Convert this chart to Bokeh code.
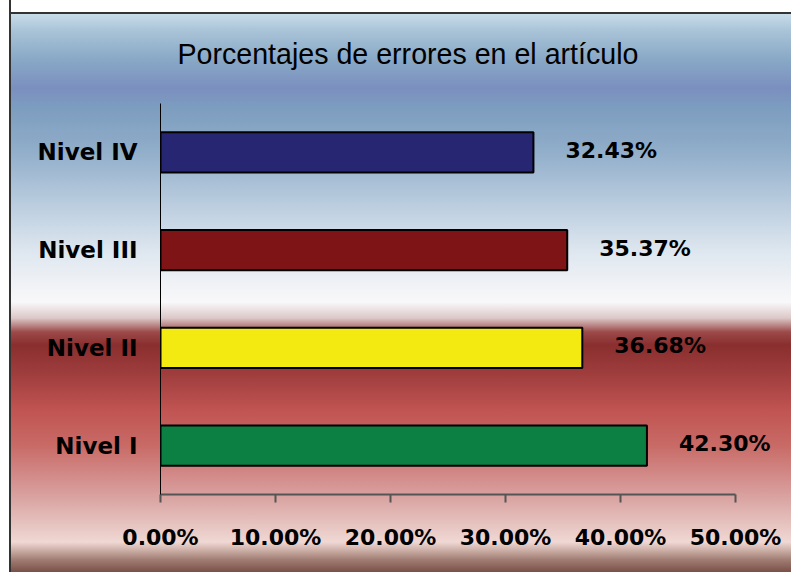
from bokeh.plotting import figure
from bokeh.models import (Range1d, FactorRange, FixedTicker, NumeralTickFormatter,
                          ColumnDataSource, InlineStyleSheet, LabelSet)
from bokeh.core.properties import value
from bokeh.embed import file_html
from bokeh.resources import INLINE

# ---- data ----
categories = ["Nivel I", "Nivel II", "Nivel III", "Nivel IV"]
percentages = [0.4230, 0.3668, 0.3537, 0.3243]
bar_colors = ["#0c7f42", "#f3ea12", "#7e1416", "#262673"]
x_ticks = [0.0, 0.1, 0.2, 0.3, 0.4, 0.5]
title_text = "Porcentajes de errores en el artículo"

labels = ["{:.2f}%".format(v * 100) for v in percentages]
src = ColumnDataSource(dict(cat=categories, val=percentages, color=bar_colors, lab=labels))

W, H = 791, 572
p = figure(width=W, height=H, output_backend="svg", toolbar_location=None,
           y_range=FactorRange(*categories, range_padding=0),
           x_range=Range1d(0, 0.5435),
           min_border_left=160, min_border_right=6,
           min_border_top=103, min_border_bottom=78)

p.hbar(y="cat", right="val", left=0, height=0.41, fill_color="color",
       line_color="black", line_width=2, source=src)

p.add_layout(LabelSet(x="val", y="cat", text="lab", source=src, x_offset=32, y_offset=2,
                      text_align="left", text_baseline="middle",
                      text_font=value("DejaVu Sans"), text_font_style="bold",
                      text_font_size="22px", text_color="black"))

# title
p.title.text = title_text
p.title.align = "left"
p.title.offset = 17
p.title.text_font = "Liberation Sans"
p.title.text_font_style = "normal"
p.title.text_font_size = "28.6px"
p.title.text_color = "black"
p.title.standoff = 68

# axes
p.xaxis.bounds = (0, 0.5)
p.xaxis.ticker = FixedTicker(ticks=x_ticks)
p.xaxis.formatter = NumeralTickFormatter(format="0.00%")
p.xaxis.axis_line_color = "#555555"
p.xaxis.axis_line_width = 2
p.xaxis.major_tick_line_color = "#555555"
p.xaxis.major_tick_line_width = 2
p.xaxis.major_tick_out = 8
p.xaxis.major_tick_in = 0
p.xaxis.minor_tick_line_color = None
p.xaxis.major_label_standoff = 22
p.xaxis.major_label_text_font = "DejaVu Sans"
p.xaxis.major_label_text_font_style = "bold"
p.xaxis.major_label_text_font_size = "22px"
p.xaxis.major_label_text_color = "black"

p.yaxis.axis_line_color = "black"
p.yaxis.axis_line_width = 1
p.yaxis.major_tick_line_color = None
p.yaxis.minor_tick_line_color = None
p.yaxis.major_label_standoff = 17
p.yaxis.major_label_text_font = "DejaVu Sans"
p.yaxis.major_label_text_font_style = "bold"
p.yaxis.major_label_text_font_size = "23px"
p.yaxis.major_label_text_color = "black"

p.xgrid.grid_line_color = None
p.ygrid.grid_line_color = None
p.outline_line_color = None
p.background_fill_alpha = 0
p.border_fill_alpha = 0

css = """
:host {
  background:
    linear-gradient(to right, #ffffff 0px, #ffffff 9px, #333333 9px, #333333 11px, transparent 11px),
    linear-gradient(to bottom,
      #ffffff 0px, #ffffff 12px, #333333 12px, #333333 14px,
      #c8dcea 14px, #aac4d8 30px, #88a8c6 60px, #7b8fbf 88px, #7d9dbf 108px,
      #90adc9 150px, #b7cadd 200px, #dde6ef 250px, #f3f4f7 290px, #f8f8fa 302px,
      #dcc8c8 318px, #9c4a4a 332px, #8a2e2e 345px, #a03e3e 375px, #c05452 410px,
      #c86a66 445px, #d28a88 475px, #daa6a4 500px, #e6c4c0 525px, #f0d8d4 542px,
      #cdb0a8 550px, #a07c72 560px, #7a5048 572px);
}
"""
p.stylesheets = [InlineStyleSheet(css=css)]

open("out.html", "w").write(file_html(p, INLINE))
